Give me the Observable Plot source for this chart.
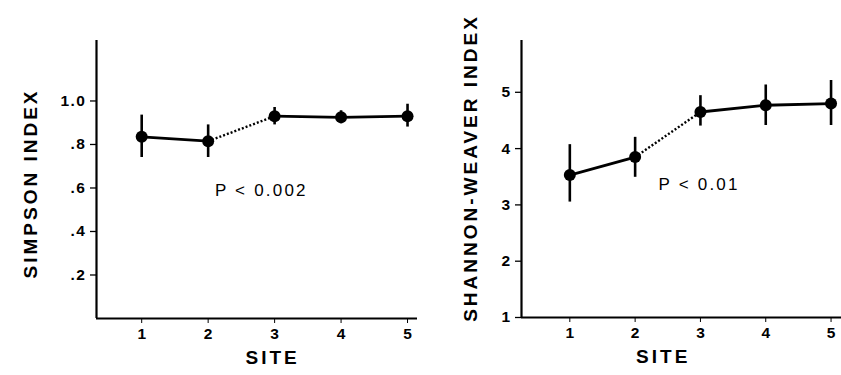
<!DOCTYPE html>
<html>
<head>
<meta charset="utf-8">
<script src="https://cdn.jsdelivr.net/npm/d3@7"></script>
<script src="https://cdn.jsdelivr.net/npm/@observablehq/plot@0.6"></script>
<style>
  body { margin: 0; background: white; }
  #wrap { position: relative; width: 841px; height: 375px; overflow: hidden; }
  #left { position: absolute; left: 0; top: 0; }
  #right { position: absolute; left: 420px; top: 0; }
</style>
</head>
<body>
<div id="wrap"><div id="left"></div><div id="right"></div></div>
<script>
// ---- data ----
const sites = [1, 2, 3, 4, 5];
const simpson   = [0.835, 0.815, 0.93, 0.925, 0.93];
const simpsonLo = [0.74, 0.74, 0.89, 0.895, 0.88];
const simpsonHi = [0.935, 0.89, 0.97, 0.955, 0.985];
const shannon   = [3.53, 3.85, 4.65, 4.77, 4.80];
const shannonLo = [3.05, 3.49, 4.40, 4.41, 4.41];
const shannonHi = [4.07, 4.20, 4.94, 5.13, 5.21];
const segStyle = ["solid", "dotted", "solid", "solid"]; // segment i joins site i+1 and i+2
const simpsonTicks = [0.2, 0.4, 0.6, 0.8, 1.0];
const simpsonTickLabels = [".2", ".4", ".6", ".8", "1.0"];
const shannonTicks = [1, 2, 3, 4, 5];
const shannonTickLabels = ["1", "2", "3", "4", "5"];
const siteTickLabels = ["1", "2", "3", "4", "5"];
const leftTitle = "SIMPSON INDEX";
const rightTitle = "SHANNON-WEAVER INDEX";
const xTitle = "SITE";
const leftNote = "P < 0.002";
const rightNote = "P < 0.01";

const font = "'Liberation Sans', Arial, Helvetica, sans-serif";

function panel(cfg) {
  const pts = sites.map((s, i) => ({site: s, v: cfg.vals[i], lo: cfg.lo[i], hi: cfg.hi[i]}));
  const segs = segStyle.map((st, i) => ({x1: sites[i], x2: sites[i + 1], y1: cfg.vals[i], y2: cfg.vals[i + 1], st}));
  const p = Plot.plot({
    width: cfg.width, height: 375,
    marginLeft: cfg.ml, marginRight: cfg.mr, marginTop: 40, marginBottom: cfg.mb,
    style: {fontFamily: font, background: "white", color: "black", overflow: "visible"},
    x: {domain: cfg.xDomain},
    y: {domain: cfg.yDomain},
    marks: [
      Plot.ruleX([cfg.xDomain[0]], {stroke: "black", strokeWidth: 2.2}),
      Plot.ruleY([cfg.yDomain[0]], {stroke: "black", strokeWidth: 2}),
      Plot.axisY({ticks: cfg.yTicks, tickFormat: d => cfg.yTickLabels[cfg.yTicks.indexOf(d)], tickSize: 6, tickPadding: 4, fontSize: 15.5, fontWeight: "bold", label: null, strokeWidth: 1.3}),
      Plot.axisX({ticks: sites, tickFormat: d => siteTickLabels[sites.indexOf(d)], tickSize: 5, tickPadding: 4, fontSize: 15.5, fontWeight: "bold", label: null, strokeWidth: 1}),
      Plot.ruleX(pts, {x: "site", y1: "lo", y2: "hi", stroke: "black", strokeWidth: 2.6}),
      Plot.link(segs.filter(d => d.st === "solid"), {x1: "x1", y1: "y1", x2: "x2", y2: "y2", stroke: "black", strokeWidth: 2.8}),
      Plot.link(segs.filter(d => d.st === "dotted"), {x1: "x1", y1: "y1", x2: "x2", y2: "y2", stroke: "black", strokeWidth: 2.4, strokeDasharray: "2,2"}),
      Plot.dot(pts, {x: "site", y: "v", r: 6, fill: "black", stroke: "none"}),
      Plot.text([cfg.note], {x: cfg.noteX, y: cfg.noteY, text: d => d, fontSize: 17, fill: "black"}),
      Plot.text([cfg.title], {frameAnchor: "left", textAnchor: "middle", dx: cfg.titleDx, dy: cfg.titleDy, rotate: -90, text: d => d, fontSize: 19, fontWeight: "bold", fill: "black"}),
      Plot.text([xTitle], {x: cfg.siteX, frameAnchor: "bottom", textAnchor: "middle", dy: 45, text: d => d, fontSize: 19, fontWeight: "bold", fill: "black"})
    ]
  });
  const sel = d3.select(p);
  sel.selectAll('g[aria-label="y-axis tick label"] text').style("letter-spacing", "1.5px");
  sel.selectAll("text").each(function() {
    const t = this.textContent;
    if (t === cfg.title || t === xTitle) d3.select(this).style("letter-spacing", "3px");
    if (t === cfg.note) d3.select(this).style("letter-spacing", "2.2px");
  });
  return p;
}

document.getElementById("left").appendChild(panel({
  width: 420, ml: 96, mr: 3, mb: 57,
  xDomain: [0.32, 5.15], yDomain: [0, 1.278],
  vals: simpson, lo: simpsonLo, hi: simpsonHi,
  yTicks: simpsonTicks, yTickLabels: simpsonTickLabels,
  title: leftTitle, titleDx: -66, titleDy: 4,
  note: leftNote, noteX: 2.8, noteY: 0.59,
  siteX: 2.97
}));
document.getElementById("right").appendChild(panel({
  width: 421, ml: 101, mr: 0, mb: 58,
  xDomain: [0.26, 5.16], yDomain: [1, 5.92],
  vals: shannon, lo: shannonLo, hi: shannonHi,
  yTicks: shannonTicks, yTickLabels: shannonTickLabels,
  title: rightTitle, titleDx: -51, titleDy: -11,
  note: rightNote, noteX: 2.98, noteY: 3.36,
  siteX: 2.43
}));
</script>
</body>
</html>
